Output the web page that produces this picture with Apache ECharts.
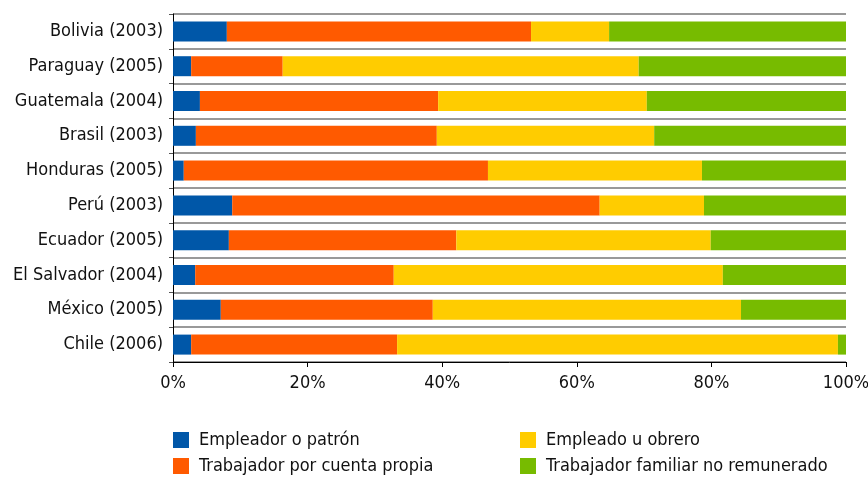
<!DOCTYPE html><html><head><meta charset="utf-8"><script src="https://cdn.jsdelivr.net/npm/echarts@6/dist/echarts.min.js"></script></head><body style="margin:0"><div id="c" style="width:868px;height:479px"></div><script>
const categories=["Bolivia (2003)","Paraguay (2005)","Guatemala (2004)","Brasil (2003)","Honduras (2005)","Perú (2003)","Ecuador (2005)","El Salvador (2004)","México (2005)","Chile (2006)"];
const empleador=[8.0,2.7,4.0,3.4,1.6,8.8,8.3,3.3,7.1,2.7];
const cuentaPropia=[45.2,13.6,35.4,35.8,45.2,54.6,33.8,29.5,31.5,30.6];
const empleado=[11.6,52.9,31.0,32.3,31.8,15.5,37.8,48.9,45.8,65.5];
const familiar=[35.2,30.8,29.6,28.5,21.4,21.1,20.1,18.3,15.6,1.2];
const ticks=["0%","20%","40%","60%","80%","100%"];
const names=["Empleador o patrón","Trabajador por cuenta propia","Empleado u obrero","Trabajador familiar no remunerado"];
const colors=["#0057a8","#ff5a00","#ffcc00","#77bb00"];
const f="'Liberation Sans Narrow','DejaVu Sans Condensed',sans-serif";
const c=echarts.init(document.getElementById('c'));
const data=[empleador,cuentaPropia,empleado,familiar];
c.setOption({
 animation:false,
 grid:{left:173,right:22,top:14,bottom:117,outerBoundsMode:'none'},
 xAxis:{type:'value',min:0,max:100,interval:20,axisLabel:{formatter:v=>ticks[v/20],fontSize:18,color:'#111',fontFamily:f,margin:12},
  axisLine:{show:true,lineStyle:{color:'#000'}},axisTick:{show:true,length:5,lineStyle:{color:'#000'}},splitLine:{show:false}},
 yAxis:{type:'category',inverse:true,data:categories,axisLabel:{fontSize:18,color:'#111',fontFamily:f,margin:10},
  axisLine:{lineStyle:{color:'#000'}},axisTick:{show:true,length:4,lineStyle:{color:'#555'}},splitLine:{show:true,lineStyle:{color:'#777',width:1.5}}},
 series:names.map((n,i)=>({name:n,type:'bar',stack:'s',data:data[i],barWidth:20,itemStyle:{color:colors[i]}}))
});
const lx=[173,520],ly=[440,466];
const g=[];
names.forEach((n,i)=>{const x=lx[i<2?0:1],y=ly[i%2];
 g.push({type:'rect',shape:{x:x,y:y-8,width:16,height:16},style:{fill:colors[i]}});
 g.push({type:'text',x:x+26,y:y,style:{text:n,fontSize:18,fill:'#111',fontFamily:f,verticalAlign:'middle'}});});
c.setOption({graphic:g});
</script></body></html>
